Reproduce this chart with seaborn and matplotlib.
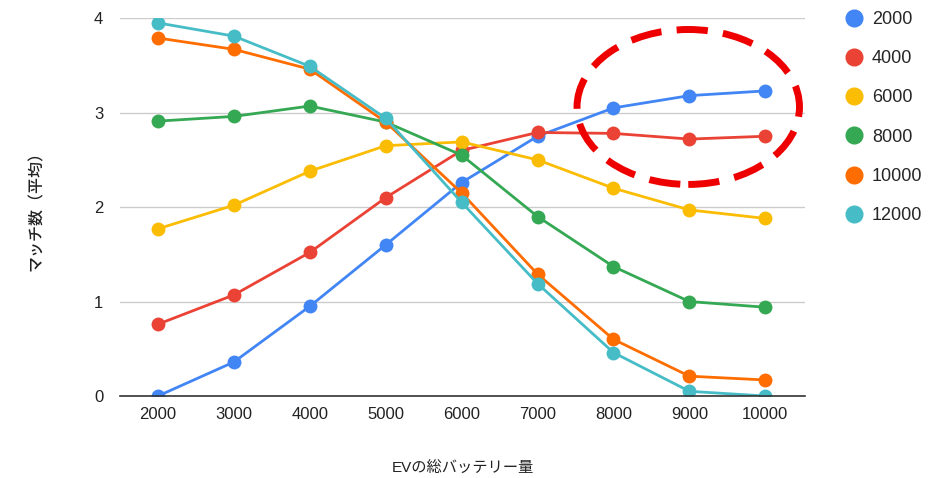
import matplotlib
matplotlib.use("Agg")
import matplotlib.pyplot as plt
import seaborn as sns
import pandas as pd
from matplotlib.lines import Line2D
from matplotlib.patches import Ellipse

# data
battery = [2000, 3000, 4000, 5000, 6000, 7000, 8000, 9000, 10000]
series_names = ["2000", "4000", "6000", "8000", "10000", "12000"]
s2000 = [0.00, 0.36, 0.95, 1.60, 2.26, 2.75, 3.05, 3.18, 3.23]
s4000 = [0.76, 1.07, 1.52, 2.10, 2.60, 2.79, 2.78, 2.72, 2.75]
s6000 = [1.77, 2.02, 2.38, 2.65, 2.69, 2.50, 2.20, 1.97, 1.88]
s8000 = [2.91, 2.96, 3.07, 2.90, 2.55, 1.90, 1.37, 1.00, 0.94]
s10000 = [3.79, 3.67, 3.46, 2.90, 2.15, 1.29, 0.60, 0.21, 0.17]
s12000 = [3.95, 3.81, 3.49, 2.94, 2.05, 1.19, 0.46, 0.05, 0.00]
colors = ["#4285F4", "#EA4335", "#FBBC04", "#34A853", "#FF6D01", "#46BDC6"]

values = [s2000, s4000, s6000, s8000, s10000, s12000]
df = pd.concat(
    [pd.DataFrame({"x": battery, "y": v, "series": name}) for name, v in zip(series_names, values)],
    ignore_index=True,
)
palette = dict(zip(series_names, colors))

sns.set_style("white")
plt.rcParams["font.family"] = ["Liberation Sans", "Noto Sans CJK JP"]

fig = plt.figure(figsize=(9.33, 4.78), dpi=100)
ax = fig.add_axes([0.1286, 0.1715, 0.863 - 0.1286, 0.962 - 0.1715])

sns.lineplot(data=df, x="x", y="y", hue="series", hue_order=series_names, palette=palette,
             marker="o", markersize=10, markeredgewidth=0, linewidth=2.0, ax=ax,
             legend=False, sort=False)

ax.set_xlim(1500, 10525)
ax.set_ylim(0, 4)
ax.set_xticks(battery)
ax.set_yticks([0, 1, 2, 3, 4])
ax.yaxis.grid(True, color="#cccccc", linewidth=1)
ax.set_axisbelow(True)
for side in ["top", "right", "left"]:
    ax.spines[side].set_visible(False)
ax.spines["bottom"].set_color("#333333")
ax.spines["bottom"].set_linewidth(1.2)
ax.tick_params(axis="both", length=0, labelsize=12, colors="#222222")
ax.tick_params(axis="y", pad=12)
ax.tick_params(axis="x", pad=8)

ax.set_xlabel("EVの総バッテリー量", fontsize=11, color="#222222", labelpad=28)
ax.set_ylabel("マッチ数（平均）", fontsize=11.5, color="#222222", labelpad=36,
              fontweight="medium")

# dashed highlight ellipse
ell = Ellipse((8985, 3.06), 2930, 1.64, fill=False, edgecolor="#EE0000",
              linewidth=5, linestyle=(0, (4.5, 2.2)), clip_on=False, zorder=5)
ax.add_patch(ell)

handles = [Line2D([], [], marker="o", linestyle="", markersize=12, color=c) for c in colors]
fig.legend(handles, series_names, loc="upper left", bbox_to_anchor=(0.888, 1.011),
           frameon=False, fontsize=13, labelspacing=1.23, handletextpad=0.5,
           handlelength=1.0)

fig.savefig("out.png", dpi=100)
